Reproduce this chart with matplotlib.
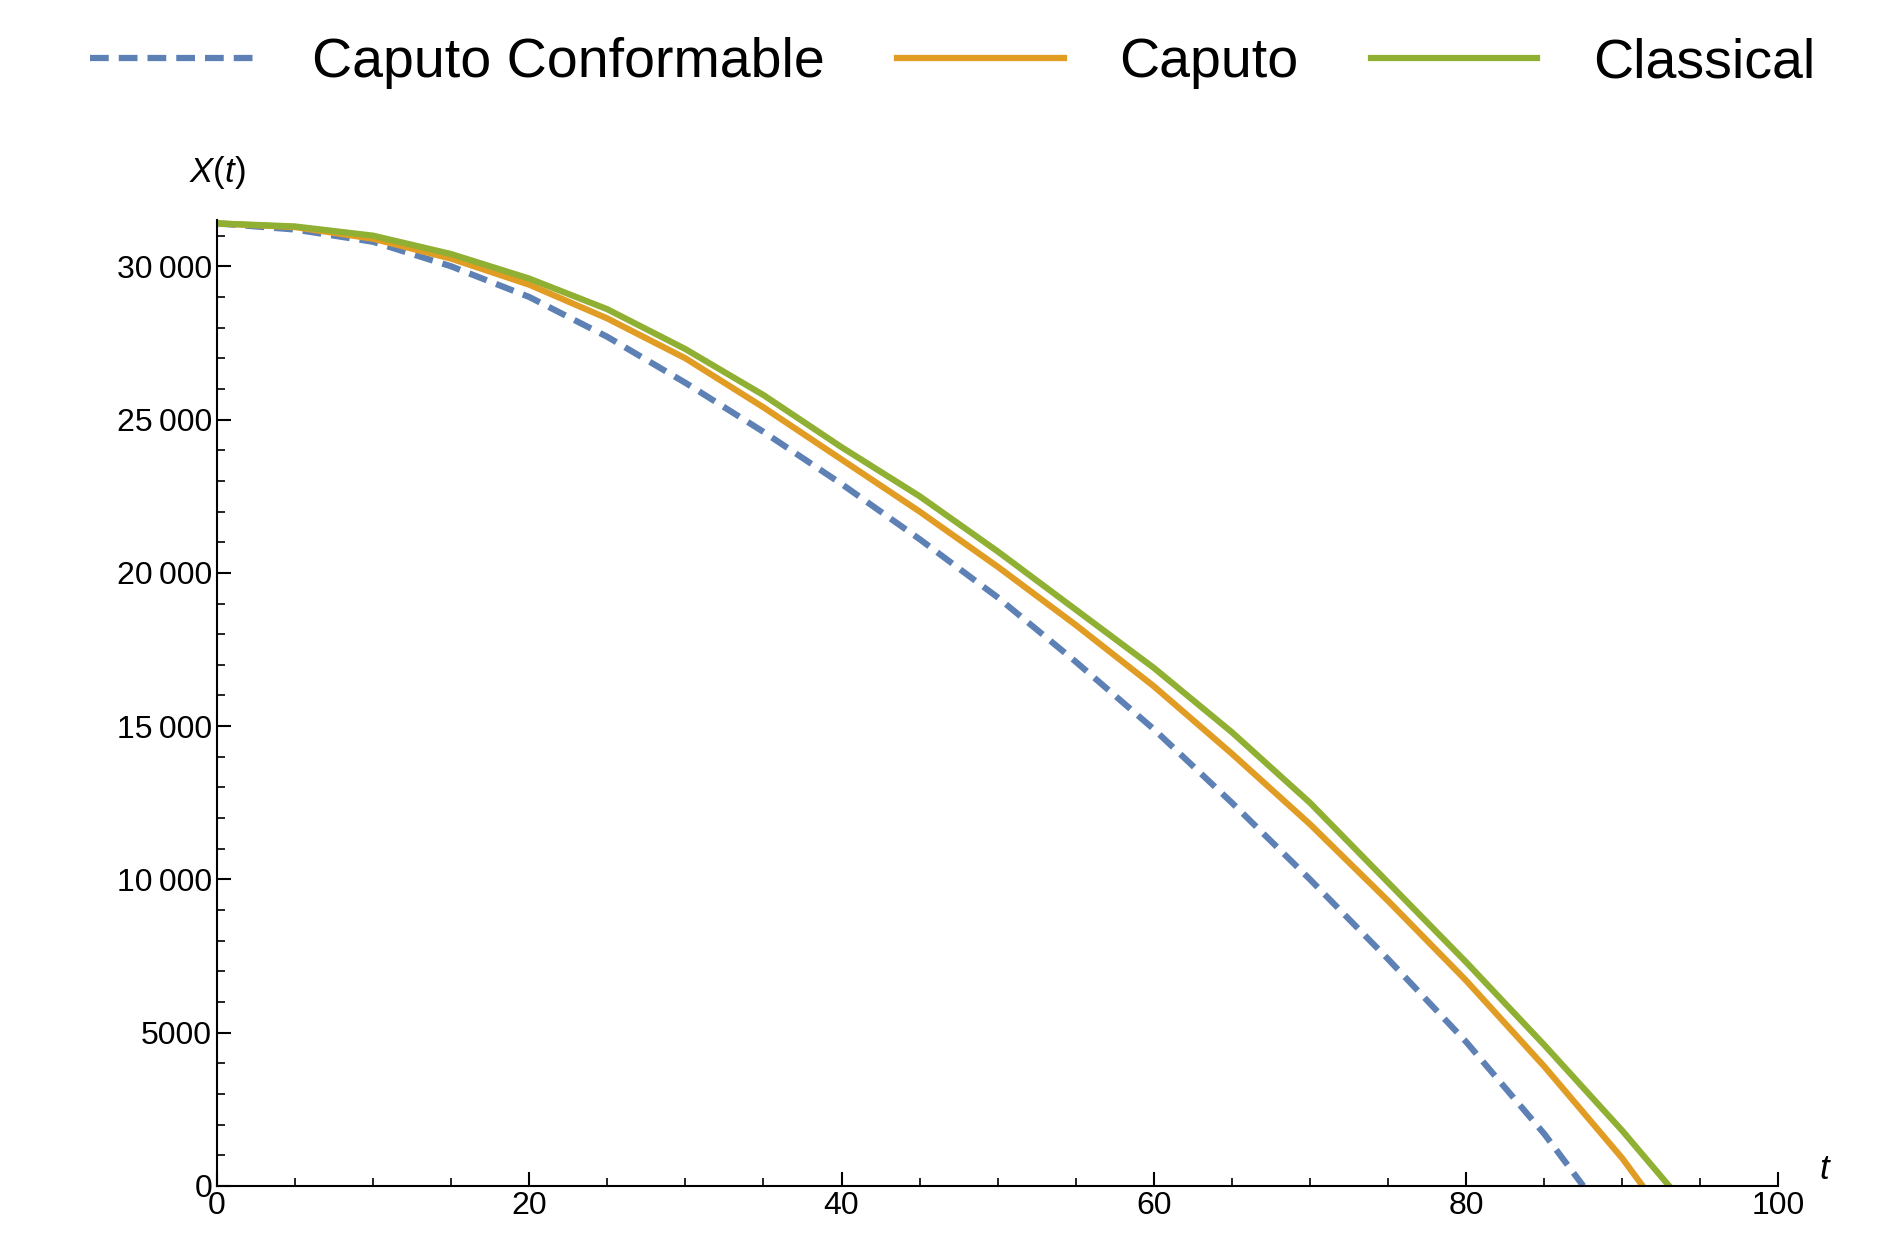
import matplotlib
matplotlib.use("Agg")
import matplotlib.pyplot as plt
from matplotlib.ticker import MultipleLocator, FuncFormatter

plt.rcParams["font.family"] = ["Liberation Sans", "DejaVu Sans"]
plt.rcParams["mathtext.fontset"] = "custom"
plt.rcParams["mathtext.it"] = "Liberation Sans:italic"
plt.rcParams["mathtext.rm"] = "Liberation Sans"

# Values
t_cc = [0, 5, 10, 15, 20, 25, 30, 35, 40, 45, 50, 55, 60, 65, 70, 75, 80, 85, 87.5]
x_cc = [31400, 31200, 30800, 30000, 29000, 27700, 26200, 24600, 22900, 21100,
        19200, 17100, 14900, 12500, 10000, 7400, 4700, 1700, 0]
t_cap = [0, 5, 10, 15, 20, 25, 30, 35, 40, 45, 50, 55, 60, 65, 70, 75, 80, 85, 90, 91.3]
x_cap = [31400, 31280, 30900, 30250, 29400, 28300, 27000, 25400, 23700, 22000,
         20200, 18300, 16300, 14100, 11800, 9300, 6700, 3900, 900, 0]
t_cl = [0, 5, 10, 15, 20, 25, 30, 35, 40, 45, 50, 55, 60, 65, 70, 75, 80, 85, 90, 93]
x_cl = [31400, 31300, 31000, 30400, 29600, 28600, 27300, 25800, 24100, 22500,
        20700, 18800, 16900, 14800, 12500, 9900, 7300, 4600, 1800, 0]

BLUE, ORANGE, GREEN = "#5E81B5", "#E19C24", "#8FB032"

fig = plt.figure(figsize=(18.86, 12.59), dpi=100)
ax = fig.add_axes([0.115, 0.058, 0.828, 0.767])

lw = 4.5
ax.plot(t_cc, x_cc, color=BLUE, lw=lw, ls=(0, (3, 1.6)), label="Caputo Conformable")
ax.plot(t_cap, x_cap, color=ORANGE, lw=lw, label="Caputo")
ax.plot(t_cl, x_cl, color=GREEN, lw=lw, label="Classical")

ax.set_xlim(0, 100)
ax.set_ylim(0, 31500)
for s in ("top", "right"):
    ax.spines[s].set_visible(False)
for s in ("left", "bottom"):
    ax.spines[s].set_linewidth(1.5)

ax.xaxis.set_major_locator(MultipleLocator(20))
ax.xaxis.set_minor_locator(MultipleLocator(5))
ax.yaxis.set_major_locator(MultipleLocator(5000))
ax.yaxis.set_minor_locator(MultipleLocator(1000))
ax.yaxis.set_major_formatter(FuncFormatter(
    lambda v, p: f"{int(v):,}".replace(",", "\u2009") if v >= 10000 else f"{int(v)}"))
ax.tick_params(which="major", length=10, width=1.5, labelsize=23, direction="in")
ax.tick_params(which="minor", length=6, width=1.2, direction="in")

ax.text(0, 1.03, "$X(t)$", transform=ax.transAxes, ha="center", va="bottom", fontsize=25)
ax.text(1.03, 0.0, "$t$", transform=ax.transAxes, ha="center", va="bottom", fontsize=25)

fig.legend(loc="upper center", bbox_to_anchor=(0.505, 1.01), ncol=3, frameon=False,
           fontsize=40, handlelength=3.0, columnspacing=1.3, handletextpad=1.0)

fig.savefig("out.png", dpi=100)
